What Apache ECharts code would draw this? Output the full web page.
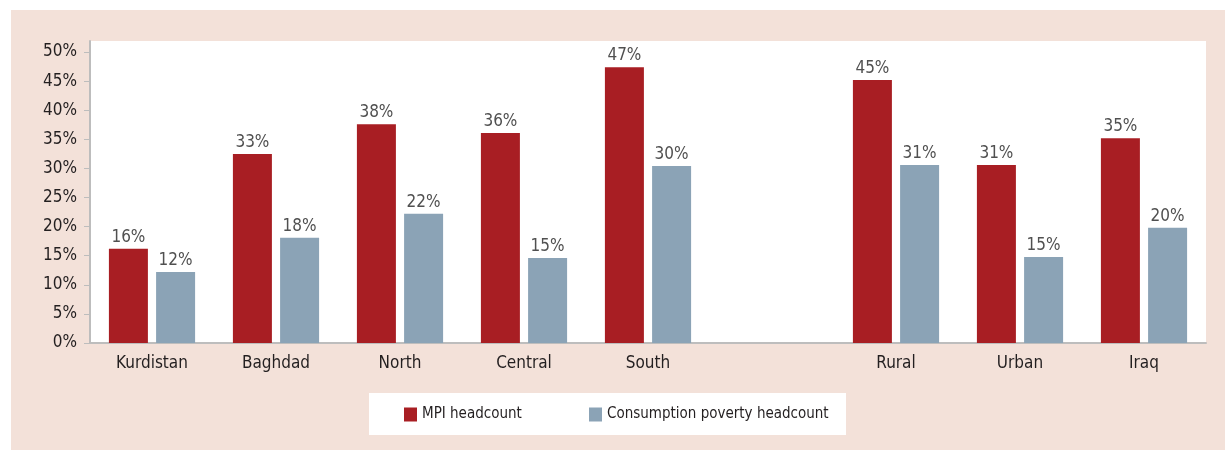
<!DOCTYPE html>
<html>
<head>
<meta charset="utf-8">
<script src="https://cdn.jsdelivr.net/npm/echarts@6/dist/echarts.min.js"></script>
<style>
  html, body { margin: 0; padding: 0; background: #ffffff; }
  #chart { width: 1225px; height: 450px; }
</style>
</head>
<body>
<div id="chart"></div>
<script>
const categories = ['Kurdistan', 'Baghdad', 'North', 'Central', 'South', '', 'Rural', 'Urban', 'Iraq'];
const mpiHeadcount = [16.2, 32.5, 37.6, 36.1, 47.4, null, 45.2, 30.6, 35.2];
const consumptionHeadcount = [12.2, 18.1, 22.2, 14.6, 30.4, null, 30.6, 14.8, 19.8];
const seriesNames = ['MPI headcount', 'Consumption poverty headcount'];
const yTicks = [0, 5, 10, 15, 20, 25, 30, 35, 40, 45, 50];

const FONT = "'DejaVu Sans Condensed', 'Liberation Sans', sans-serif";
const chart = echarts.init(document.getElementById('chart'), null, { renderer: 'canvas' });

const labelStyle = {
  show: true,
  position: 'top',
  distance: 3,
  color: '#505050',
  fontFamily: FONT,
  fontSize: 17,
  formatter: p => (p.value == null ? '' : Math.round(p.value) + '%')
};

const legendBase = {
  top: 407,
  itemWidth: 13, itemHeight: 14,
  icon: 'rect',
  padding: 0,
  textStyle: { fontFamily: FONT, fontSize: 15, color: '#231f20' }
};

chart.setOption({
  backgroundColor: '#ffffff',
  animation: false,
  textStyle: { fontFamily: FONT },
  graphic: [
    { type: 'rect', z: -10, shape: { x: 11, y: 10, width: 1214, height: 440 }, style: { fill: '#f3e1d9' } },
    { type: 'rect', z: 1, shape: { x: 369, y: 393, width: 477, height: 42 }, style: { fill: '#ffffff' } }
  ],
  grid: {
    left: 90, right: 19, top: 41, bottom: 107,
    show: true, backgroundColor: '#ffffff', borderWidth: 0
  },
  legend: [
    Object.assign({ left: 404, data: [seriesNames[0]] }, legendBase),
    Object.assign({ left: 589, data: [seriesNames[1]] }, legendBase)
  ],
  xAxis: {
    type: 'category',
    data: categories,
    axisLine: { show: true, lineStyle: { color: '#bdbdbd', width: 2 } },
    axisTick: { show: false },
    axisLabel: { color: '#231f20', fontFamily: FONT, fontSize: 17, margin: 12 },
    splitLine: { show: false }
  },
  yAxis: {
    type: 'value',
    min: 0,
    max: 51.9,
    axisLine: { show: true, lineStyle: { color: '#bdbdbd', width: 2 } },
    axisTick: { show: true, length: 6, lineStyle: { color: '#bdbdbd', width: 1 }, customValues: yTicks },
    axisLabel: {
      color: '#231f20', fontFamily: FONT, fontSize: 17, margin: 13,
      customValues: yTicks,
      formatter: v => v + '%'
    },
    splitLine: { show: false }
  },
  series: [
    {
      name: seriesNames[0], type: 'bar', data: mpiHeadcount,
      barWidth: 39, barGap: '21%',
      itemStyle: { color: '#a81e23' },
      label: labelStyle
    },
    {
      name: seriesNames[1], type: 'bar', data: consumptionHeadcount,
      barWidth: 39, barGap: '21%',
      itemStyle: { color: '#8ba3b6' },
      label: labelStyle
    }
  ]
});
</script>
</body>
</html>
